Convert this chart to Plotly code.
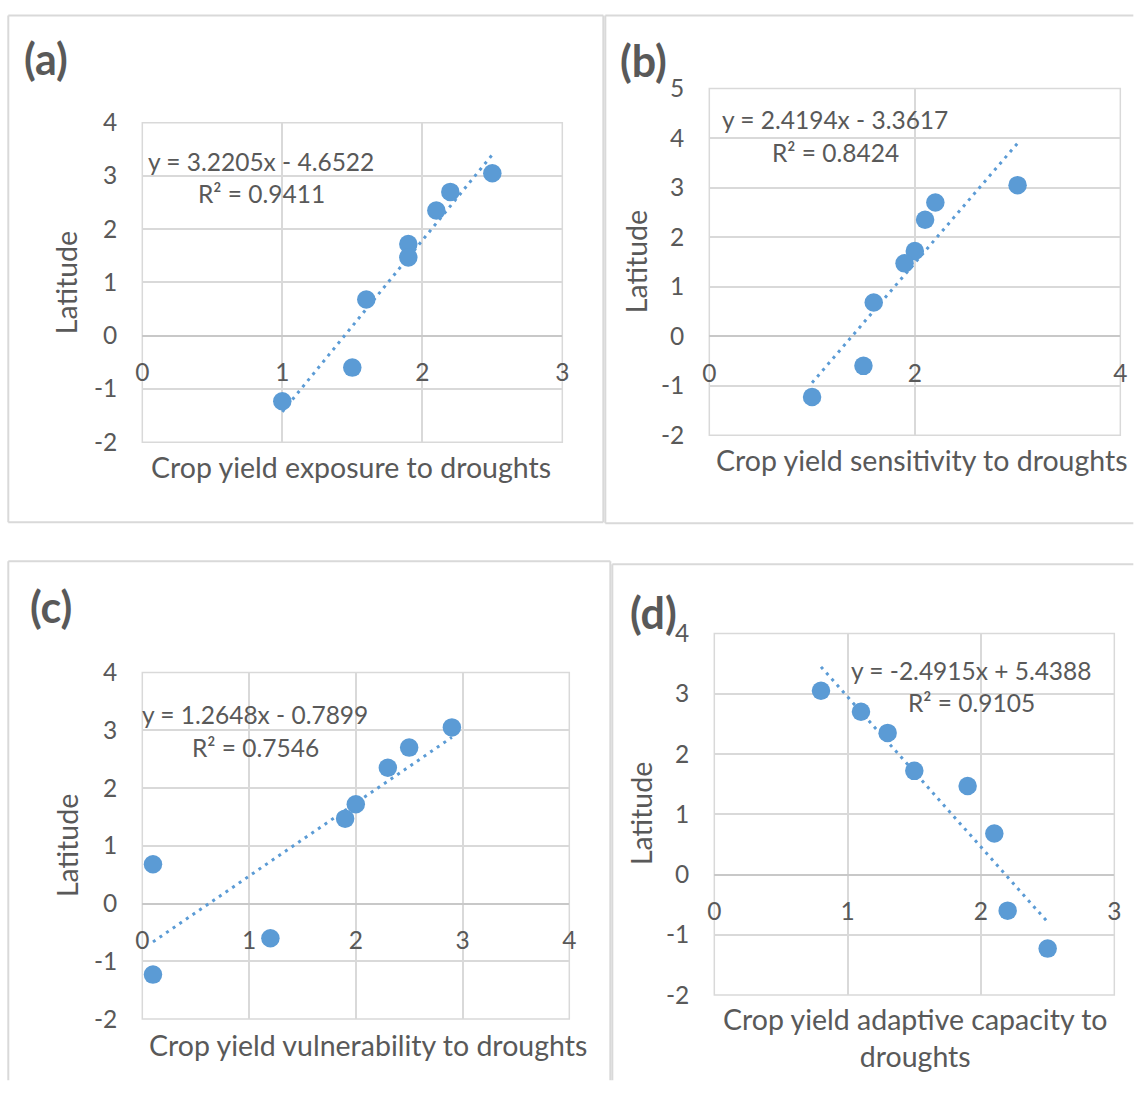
import plotly.graph_objects as go
import numpy as np

# ---------------- data ----------------
latitude = [3.05, 2.70, 2.35, 1.72, 1.47, 0.68, -0.60, -1.23]

exposure = [2.5, 2.2, 2.1, 1.9, 1.9, 1.6, 1.5, 1.0]
sensitivity = [3.0, 2.2, 2.1, 2.0, 1.9, 1.6, 1.5, 1.0]
vulnerability = [2.9, 2.5, 2.3, 2.0, 1.9, 0.1, 1.2, 0.1]
adaptive = [0.8, 1.1, 1.3, 1.5, 1.9, 2.1, 2.2, 2.5]

panel_labels = ["(a)", "(b)", "(c)", "(d)"]
x_titles = ["Crop yield exposure to droughts",
            "Crop yield sensitivity to droughts",
            "Crop yield vulnerability to droughts",
            "Crop yield adaptive capacity to<br>droughts"]
y_title = "Latitude"
slopes = [3.2205, 2.4194, 1.2648, -2.4915]
intercepts = [-4.6522, -3.3617, -0.7899, 5.4388]
r2_values = [0.9411, 0.8424, 0.7546, 0.9105]
x_ticks = [[0, 1, 2, 3], [0, 2, 4], [0, 1, 2, 3, 4], [0, 1, 2, 3]]
y_ticks = [[-2, -1, 0, 1, 2, 3, 4], [-2, -1, 0, 1, 2, 3, 4, 5],
           [-2, -1, 0, 1, 2, 3, 4], [-2, -1, 0, 1, 2, 3, 4]]

# ---------------- layout (target picture pixels) ----------------
W, H = 1140, 1095
# the photographed page shows the figure slightly inset; map target pixels to paper
SX, OX = 0.9877, 6.7
SY, OY = 0.972, 16.5
def fx(p): return ((p - OX) / SX) / W
def fy(p): return 1 - ((p - OY) / SY) / H

plot_px = [  # left, right, top, bottom
    (142, 562, 124, 443),
    (709, 1120, 90, 436),
    (142, 569, 673, 1019),
    (714, 1114, 634, 995),
]
# visible sides of each panel frame: (x0, y0, x1, y1) pixel segments
frame_segments = [
    [(8, 17, 603, 17), (8, 17, 8, 523), (8, 523, 603, 523), (603, 17, 603, 523)],
    [(605, 17, 1133, 17), (605, 17, 605, 524), (605, 524, 1133, 524)],
    [(8, 562, 610, 562), (8, 562, 8, 1080), (610, 562, 610, 1080)],
    [(612, 565, 1133, 565), (612, 565, 612, 1080)],
]
label_px = [(46, 60), (643, 62), (51, 607), (653, 613)]
eq_px = [(261, 163, 195), (835, 121, 154), (255, 715, 748), (971, 671, 703)]
xtitle_px = [(351, 468), (922, 461), (368, 1045), (915, 1037)]
ytitle_px = [(66, 284), (636, 263), (66, 846), (640, 814)]

BLUE = "#5B9BD5"
GRID = "#D9D9D9"
TXT = "#595959"
FONT = "Lato"
TICK_SIZE = 24.5
TITLE_SIZE = 28.5

xs_all = [exposure, sensitivity, vulnerability, adaptive]

fig = go.Figure()
annotations = []
shapes = []

for i in range(4):
    sfx = "" if i == 0 else str(i + 1)
    xa, ya = "x" + sfx, "y" + sfx
    l, r, t, b = plot_px[i]
    xs = xs_all[i]

    # trendline over data extent
    tx = np.array([min(xs), max(xs)])
    ty = slopes[i] * tx + intercepts[i]
    fig.add_trace(go.Scatter(x=tx, y=ty, mode="lines", xaxis=xa, yaxis=ya,
                             line=dict(color=BLUE, width=3, dash="3px,5px"),
                             showlegend=False, hoverinfo="skip"))
    fig.add_trace(go.Scatter(x=xs, y=latitude, mode="markers", xaxis=xa, yaxis=ya,
                             marker=dict(color=BLUE, size=18.5, line=dict(width=0)),
                             showlegend=False))

    xr = [x_ticks[i][0], x_ticks[i][-1]]
    yr = [y_ticks[i][0], y_ticks[i][-1]]
    ydom = [fy(b), fy(t)]
    zero_pos = ydom[0] + (0 - yr[0]) / (yr[1] - yr[0]) * (ydom[1] - ydom[0])

    xaxis = dict(domain=[fx(l), fx(r)], range=xr, anchor="free",
                 position=zero_pos, tickmode="array", tickvals=x_ticks[i],
                 ticktext=[str(v) for v in x_ticks[i]],
                 showgrid=True, gridcolor=GRID,
                 gridwidth=1.5, zeroline=False, showline=False, ticks="",
                 ticklabelstandoff=20,
                 tickfont=dict(family=FONT, size=TICK_SIZE, color=TXT),
                 fixedrange=True)
    yaxis = dict(domain=ydom, range=yr, anchor=xa, tickmode="array",
                 tickvals=y_ticks[i], ticktext=[str(v) for v in y_ticks[i]],
                 showgrid=True, gridcolor=GRID, gridwidth=1.5,
                 zeroline=True, zerolinecolor="#C8C8C8", zerolinewidth=1.5,
                 showline=False, ticks="", ticklabelstandoff=24,
                 tickfont=dict(family=FONT, size=TICK_SIZE, color=TXT),
                 fixedrange=True)
    fig.update_layout(**{"xaxis" + sfx: xaxis, "yaxis" + sfx: yaxis})

    # plot-area frame
    shapes.append(dict(type="rect", xref=xa + " domain", yref=ya + " domain",
                       x0=0, x1=1, y0=0, y1=1,
                       line=dict(color=GRID, width=1.5), layer="below"))
    # panel border (only the sides that fall inside the picture)
    for (sx0, sy0, sx1, sy1) in frame_segments[i]:
        shapes.append(dict(type="line", xref="paper", yref="paper",
                           x0=fx(sx0), x1=fx(sx1), y0=fy(sy0), y1=fy(sy1),
                           line=dict(color="#D9D9D9", width=2), layer="below"))

    # panel label
    annotations.append(dict(text="<b>" + panel_labels[i] + "</b>", xref="paper", yref="paper",
                            x=fx(label_px[i][0]), y=fy(label_px[i][1]),
                            xanchor="center", yanchor="middle", showarrow=False,
                            font=dict(family=FONT, size=43, color=TXT)))
    # equation + R^2
    ex, ey1, ey2 = eq_px[i]
    sign = "-" if intercepts[i] < 0 else "+"
    eq = f"y = {slopes[i]:.4f}x {sign} {abs(intercepts[i]):.4f}"
    annotations.append(dict(text=eq, xref="paper", yref="paper", x=fx(ex), y=fy(ey1),
                            xanchor="center", yanchor="middle", showarrow=False,
                            font=dict(family=FONT, size=TICK_SIZE, color=TXT)))
    annotations.append(dict(text=f"R² = {r2_values[i]:.4f}", xref="paper", yref="paper",
                            x=fx(ex), y=fy(ey2), xanchor="center", yanchor="middle",
                            showarrow=False,
                            font=dict(family=FONT, size=TICK_SIZE, color=TXT)))
    # x-axis title
    annotations.append(dict(text=x_titles[i], xref="paper", yref="paper",
                            x=fx(xtitle_px[i][0]), y=fy(xtitle_px[i][1]),
                            xanchor="center", yanchor="middle", showarrow=False,
                            font=dict(family=FONT, size=TITLE_SIZE, color=TXT)))
    # y-axis title
    annotations.append(dict(text=y_title, xref="paper", yref="paper",
                            x=fx(ytitle_px[i][0]), y=fy(ytitle_px[i][1]),
                            xanchor="center", yanchor="middle", textangle=-90,
                            showarrow=False,
                            font=dict(family=FONT, size=TITLE_SIZE, color=TXT)))

fig.update_layout(width=W, height=H, margin=dict(l=0, r=0, t=0, b=0),
                  paper_bgcolor="white", plot_bgcolor="white",
                  annotations=annotations, shapes=shapes,
                  font=dict(family=FONT, color=TXT))

fig.write_html("out.html", config={"displayModeBar": False},
               post_script="document.body.style.margin='0';"
                           "document.body.style.overflow='hidden';")
